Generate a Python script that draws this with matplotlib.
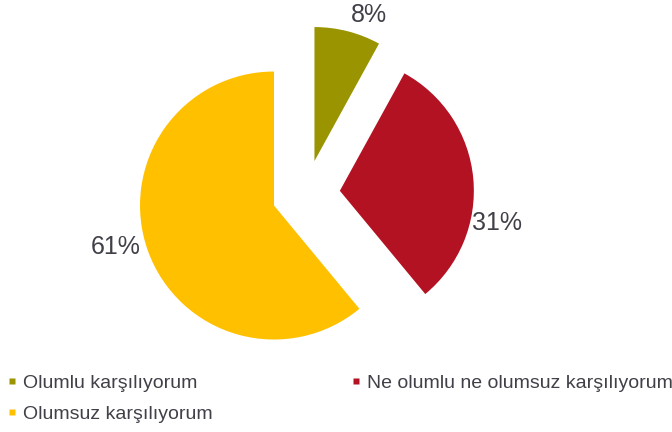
import numpy as np
import matplotlib
matplotlib.use('Agg')
import matplotlib.pyplot as plt
from matplotlib.lines import Line2D

plt.rcParams['font.family'] = ['Liberation Sans', 'DejaVu Sans']

# veriler
categories = ['Olumlu karşılıyorum', 'Ne olumlu ne olumsuz karşılıyorum', 'Olumsuz karşılıyorum']
shares = [8, 31, 61]
pct_labels = ['8%', '31%', '61%']
colors = ['#999400', '#B31223', '#FFC000']

# etiket yerleşimi (yarıçap oranı, açı kayması derece)
label_dist = [1.16, 1.20, 1.22]
label_shift = [-6, -17, -5]

W, H = 672, 432
fig = plt.figure(figsize=(W / 100, H / 100), dpi=100)
ax = fig.add_axes([0, 0, 1, 1])

R = 134
wedges, _ = ax.pie(shares, colors=colors, startangle=90, counterclock=False,
                   center=(306, H - 194), radius=R, explode=[34] * 3,
                   wedgeprops=dict(linewidth=0))

txt_color = '#404048'
for w, lab, d, sh in zip(wedges, pct_labels, label_dist, label_shift):
    ang = np.deg2rad((w.theta1 + w.theta2) / 2 + sh)
    cx, cy = w.center
    ax.text(cx + d * R * np.cos(ang), cy + d * R * np.sin(ang), lab,
            ha='center', va='center', fontsize=18, color=txt_color)

ax.set_xlim(0, W)
ax.set_ylim(0, H)
ax.set_aspect('equal')
ax.axis('off')

handles = [Line2D([], [], linestyle='none', marker='s', markersize=4.5,
                  markerfacecolor=c, markeredgecolor='none') for c in colors]
# ncol=2 sütun sırasıyla doldurur: satır 1 -> 0, 1 ; satır 2 -> 2
order = [0, 2, 1]
fig.legend([handles[i] for i in order], [categories[i] for i in order],
           ncol=2, loc='upper left', bbox_to_anchor=(7.5 / W, 1 - 374 / H),
           frameon=False, fontsize=14, labelcolor=txt_color,
           handlelength=0.5, handletextpad=0.29, borderpad=0, borderaxespad=0,
           labelspacing=0.72, columnspacing=7.15)

fig.savefig('out.png', dpi=100)
